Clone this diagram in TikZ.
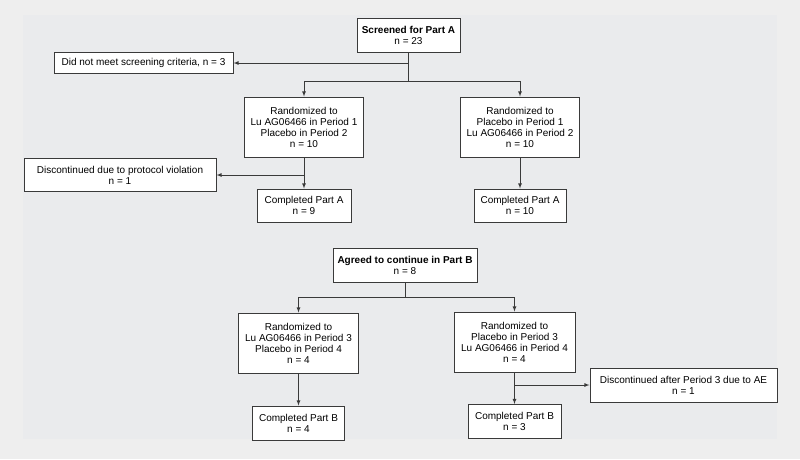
\documentclass[tikz,border=0pt]{standalone}
\usepackage{fontspec}
\setmainfont{Liberation Sans}
\usetikzlibrary{positioning}

\definecolor{bgout}{HTML}{EEEEEE}
\definecolor{bgin}{HTML}{EAEBED}
\definecolor{edge}{HTML}{3A3A3A}

\tikzset{
  flowbox/.style = {draw=edge, fill=white, line width=1pt, align=center,
    inner sep=1pt, font=\fontsize{10}{11}\selectfont},
  flowline/.style = {draw=edge, line width=0.8pt},
}

\begin{document}
\begin{tikzpicture}[x=1pt, y=-1pt]
	\fill[bgout] (0,0) rectangle (800,459);
	\useasboundingbox (0,0) rectangle (800,459);
	\fill[bgin] (23,15) rectangle (777,439);

	% Part A
	\node[flowbox, minimum width=103pt, minimum height=34pt] (scrA) at (408.5,35) {\textbf{Screened for Part A}\\n = 23};
	\node[flowbox, minimum width=179pt, minimum height=21pt] (exclA) at (143.5,63) {Did not meet screening criteria, n = 3};
	\node[flowbox, minimum width=119pt, minimum height=60pt] (randA1) at (304,127) {Randomized to\\Lu AG06466 in Period 1\\Placebo in Period 2\\n = 10};
	\node[flowbox, minimum width=119pt, minimum height=60pt] (randA2) at (520,127) {Randomized to\\Placebo in Period 1\\Lu AG06466 in Period 2\\n = 10};
	\node[flowbox, minimum width=192pt, minimum height=33pt] (discA) at (120,175) {Discontinued due to protocol violation\\n = 1};
	\node[flowbox, minimum width=94pt, minimum height=33pt] (compA1) at (304,205.5) {Completed Part A\\n = 9};
	\node[flowbox, minimum width=92pt, minimum height=33pt] (compA2) at (520,205.5) {Completed Part A\\n = 10};

	\coordinate (brA) at (408.5,81);
	\draw[flowline] (scrA.south) -- (brA);
	\draw[flowline, ->, >=latex] (scrA.south |- exclA.east) -- (exclA.east);
	\draw[flowline, ->, >=latex] (brA) -| (randA1.north);
	\draw[flowline, ->, >=latex] (brA) -| (randA2.north);
	\draw[flowline, ->, >=latex] (randA1.south) -- (compA1.north);
	\draw[flowline, ->, >=latex] (randA1.south |- discA.east) -- (discA.east);
	\draw[flowline, ->, >=latex] (randA2.south) -- (compA2.north);

	% Part B
	\node[flowbox, minimum width=144pt, minimum height=34pt] (agrB) at (405,265) {\textbf{Agreed to continue in Part B}\\n = 8};
	\node[flowbox, minimum width=120pt, minimum height=60pt] (randB1) at (298.5,343) {Randomized to\\Lu AG06466 in Period 3\\Placebo in Period 4\\n = 4};
	\node[flowbox, minimum width=121pt, minimum height=60pt] (randB2) at (514.5,342) {Randomized to\\Placebo in Period 3\\Lu AG06466 in Period 4\\n = 4};
	\node[flowbox, minimum width=187pt, minimum height=34pt] (discB) at (683.5,385) {Discontinued after Period 3 due to AE\\n = 1};
	\node[flowbox, minimum width=92pt, minimum height=34pt] (compB1) at (298.5,423) {Completed Part B\\n = 4};
	\node[flowbox, minimum width=93pt, minimum height=34pt] (compB2) at (514.5,421.5) {Completed Part B\\n = 3};

	\coordinate (brB) at (405,297);
	\draw[flowline] (agrB.south) -- (brB);
	\draw[flowline, ->, >=latex] (brB) -| (randB1.north);
	\draw[flowline, ->, >=latex] (brB) -| (randB2.north);
	\draw[flowline, ->, >=latex] (randB1.south) -- (compB1.north);
	\draw[flowline, ->, >=latex] (randB2.south) -- (compB2.north);
	\draw[flowline, ->, >=latex] (randB2.south |- discB.west) -- (discB.west);
\end{tikzpicture}
\end{document}
